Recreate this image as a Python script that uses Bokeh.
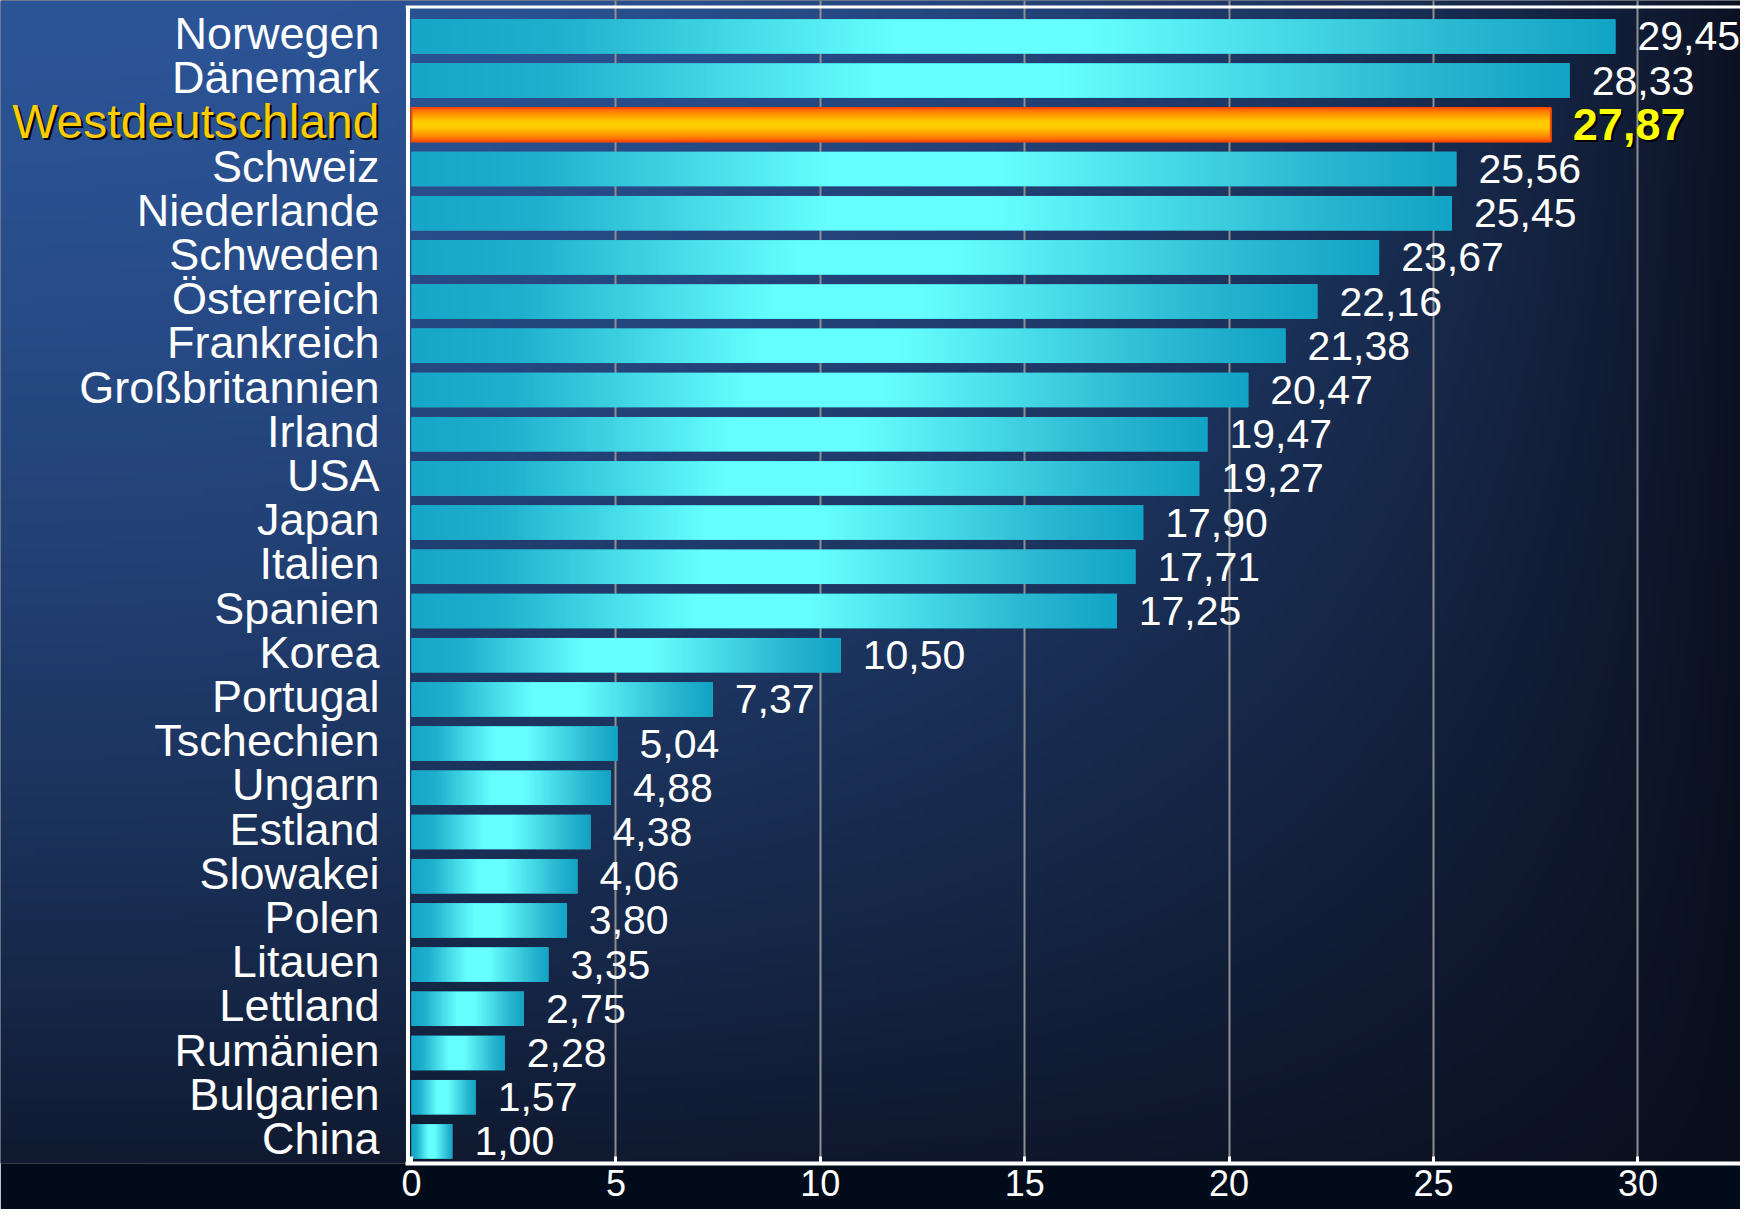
import numpy as np
from bokeh.plotting import figure
from bokeh.models import ColumnDataSource, FixedTicker, Range1d
from bokeh.core.properties import value
from bokeh.embed import file_html
from bokeh.resources import INLINE

# ---------------- data ----------------
countries = ["Norwegen", "Dänemark", "Westdeutschland", "Schweiz", "Niederlande",
             "Schweden", "Österreich", "Frankreich", "Großbritannien", "Irland",
             "USA", "Japan", "Italien", "Spanien", "Korea", "Portugal",
             "Tschechien", "Ungarn", "Estland", "Slowakei", "Polen", "Litauen",
             "Lettland", "Rumänien", "Bulgarien", "China"]
values = [29.45, 28.33, 27.87, 25.56, 25.45, 23.67, 22.16, 21.38, 20.47, 19.47,
          19.27, 17.90, 17.71, 17.25, 10.50, 7.37, 5.04, 4.88, 4.38, 4.06,
          3.80, 3.35, 2.75, 2.28, 1.57, 1.00]
highlight = "Westdeutschland"
x_ticks = [0, 5, 10, 15, 20, 25, 30]
value_labels = [f"{v:.2f}".replace(".", ",") for v in values]

# ---------------- layout ----------------
W, H = 1740, 1209
BOTTOM = 46                      # space for the x axis below the frame
FRAME_H = H - BOTTOM
X0_PX = 411.0                    # canvas pixel of value 0
PX_PER_UNIT = 40.88
x_start = -X0_PX / PX_PER_UNIT
x_end = x_start + W / PX_PER_UNIT
ROW_PX = 44.2
Y_TOP = FRAME_H / ROW_PX
BAR_H = 0.78
FONT = "Liberation Sans"

p = figure(width=W, height=H,
           x_range=Range1d(x_start, x_end), y_range=Range1d(0, Y_TOP),
           output_backend="svg", toolbar_location=None,
           min_border_left=0, min_border_right=0, min_border_top=0,
           min_border_bottom=BOTTOM)
p.outline_line_color = None
p.background_fill_color = "#0a0e1c"
p.border_fill_color = "#020b1a"


def rgba(r, g, b):
    r = np.clip(np.asarray(r), 0, 255).astype(np.uint32)
    g = np.clip(np.asarray(g), 0, 255).astype(np.uint32)
    b = np.clip(np.asarray(b), 0, 255).astype(np.uint32)
    return (255 << 24) | (b << 16) | (g << 8) | r


def interp_stops(t, stops):
    pos = [s[0] for s in stops]
    cols = np.array([s[1] for s in stops], dtype=float)
    return [np.interp(t, pos, cols[:, k]) for k in range(3)]


# ---------------- background gradient ----------------
nx, ny = 290, 200
cxs = (np.arange(nx) + 0.5) / nx * W
cys = FRAME_H * (1 - (np.arange(ny) + 0.5) / ny)
XX, YY = np.meshgrid(cxs, cys)
fx = 1 - np.clip(XX / 1756.0, 0, 1) ** 2.2
fy = 1 - 0.9 * np.clip(YY / 1175.0, 0, 1) ** 1.3
f = np.clip(fx * fy, 0, 1) ** 0.82
blue = np.array([44, 85, 152])
dark = np.array([10, 14, 28])
bg = rgba(dark[0] + f * (blue[0] - dark[0]),
          dark[1] + f * (blue[1] - dark[1]),
          dark[2] + f * (blue[2] - dark[2]))
bg_r = p.image_rgba(image=[bg], x=x_start, y=0, dw=x_end - x_start, dh=Y_TOP)
bg_r.level = "image"

# ---------------- grid & axis ----------------
p.xgrid.ticker = FixedTicker(ticks=x_ticks[1:])
p.xgrid.grid_line_color = "#8f8f8f"
p.xgrid.grid_line_width = 2
p.ygrid.visible = False
p.yaxis.visible = False

ax = p.xaxis[0]
ax.ticker = FixedTicker(ticks=x_ticks)
ax.bounds = (-0.14, x_end)
ax.axis_line_color = "white"
ax.axis_line_width = 4
ax.major_tick_in = 7
ax.major_tick_out = 0
ax.major_tick_line_color = "white"
ax.major_tick_line_width = 3
ax.minor_tick_line_color = None
ax.major_label_standoff = 6
ax.major_label_text_color = "white"
ax.major_label_text_font = FONT
ax.major_label_text_font_size = "36px"

# ---------------- bars ----------------
n = len(countries)
yc = [n - 1 - i + 0.5 for i in range(n)]
is_hl = [c == highlight for c in countries]

t = np.linspace(0, 1, 256)
cyan_stops = [(0.0, (22, 166, 200)), (0.12, (30, 176, 205)), (0.4, (102, 255, 255)),
              (0.56, (102, 255, 255)), (0.88, (40, 182, 208)), (1.0, (18, 164, 198))]
cr, cg, cb = interp_stops(t, cyan_stops)
cyan_img = rgba(cr, cg, cb).reshape(1, -1)

tv = np.linspace(0, 1, 64)
orange_stops = [(0.0, (255, 84, 0)), (0.2, (255, 150, 0)), (0.42, (255, 204, 0)),
                (0.58, (255, 204, 0)), (0.8, (255, 150, 0)), (1.0, (255, 84, 0))]
orr, og, ob = interp_stops(tv, orange_stops)
orange_img = rgba(orr, og, ob).reshape(-1, 1)


def pick(seq, want):
    return [s for s, h in zip(seq, is_hl) if h == want]


norm = ColumnDataSource(dict(
    y=pick(yc, False), ybot=[y - BAR_H / 2 for y in pick(yc, False)],
    v=pick(values, False), image=[cyan_img] * len(pick(yc, False)),
))
hl = ColumnDataSource(dict(
    y=pick(yc, True), ybot=[y - BAR_H / 2 for y in pick(yc, True)],
    v=pick(values, True), image=[orange_img] * len(pick(yc, True)),
))

p.hbar(y="y", left=0, right="v", height=BAR_H, source=norm,
       fill_color="#2fc0d8", line_color=None)
p.image_rgba(image="image", x=0, y="ybot", dw="v", dh=BAR_H, source=norm)
p.hbar(y="y", left=0, right="v", height=BAR_H, source=hl,
       fill_color="#ffb000", line_color=None)
p.image_rgba(image="image", x=0, y="ybot", dw="v", dh=BAR_H, source=hl)
p.hbar(y="y", left=0, right="v", height=BAR_H - 0.02, source=hl,
       fill_color=None, line_color="#ff4a00", line_width=2)

# frame lines (left and top)
TOP_LINE = (FRAME_H - 6.5) / ROW_PX
p.segment(x0=-0.086, y0=0, x1=-0.086, y1=TOP_LINE, line_color="white", line_width=4)
p.segment(x0=-0.14, y0=TOP_LINE, x1=x_end, y1=TOP_LINE,
          line_color="white", line_width=3)

# ---------------- labels ----------------
lab = ColumnDataSource(dict(y=pick(yc, False), text=pick(countries, False),
                            v=pick(values, False), vt=pick(value_labels, False)))
lab_hl = ColumnDataSource(dict(y=pick(yc, True), text=pick(countries, True),
                               v=pick(values, True), vt=pick(value_labels, True)))

p.text(x=0, y="y", text="text", source=lab, x_offset=-32, y_offset=-3,
       text_align="right", text_baseline="middle", text_color="white",
       text_font=value(FONT), text_font_size="45px")
p.text(x=0, y="y", text="text", source=lab_hl, x_offset=-30, y_offset=-1,
       text_align="right", text_baseline="middle", text_color="black",
       text_font=value(FONT), text_font_size="48px")
p.text(x=0, y="y", text="text", source=lab_hl, x_offset=-32, y_offset=-3,
       text_align="right", text_baseline="middle", text_color="#ffcc00",
       text_font=value(FONT), text_font_size="48px")

p.text(x="v", y="y", text="vt", source=lab, x_offset=22, y_offset=0,
       text_align="left", text_baseline="middle", text_color="white",
       text_font=value(FONT), text_font_size="41px")
p.text(x="v", y="y", text="vt", source=lab_hl, x_offset=24, y_offset=2,
       text_align="left", text_baseline="middle", text_color="black",
       text_font=value(FONT), text_font_size="45px", text_font_style="bold")
p.text(x="v", y="y", text="vt", source=lab_hl, x_offset=22, y_offset=0,
       text_align="left", text_baseline="middle", text_color="#ffff00",
       text_font=value(FONT), text_font_size="45px", text_font_style="bold")

open("out.html", "w").write(file_html(p, INLINE))
